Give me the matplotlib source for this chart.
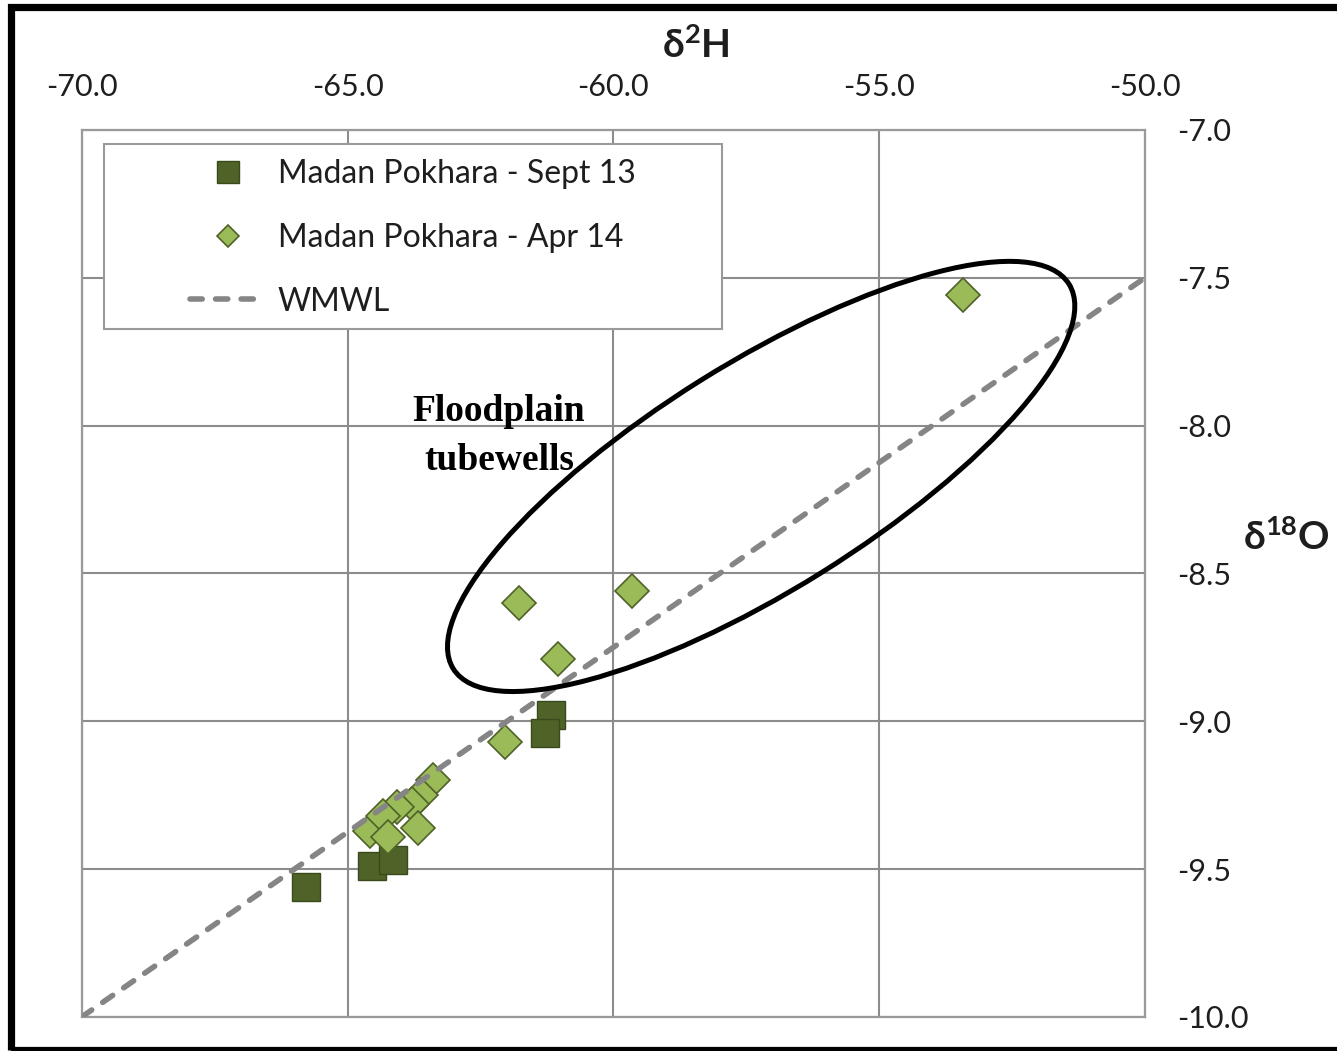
import numpy as np
import matplotlib
matplotlib.use("Agg")
import matplotlib.pyplot as plt
from matplotlib.patches import Ellipse, Rectangle
from matplotlib.transforms import ScaledTranslation

# isotope data, delta2H vs delta18O (permil)
sept13_d2h = [-65.79, -64.54, -64.15, -61.18, -61.29]
sept13_d18o = [-9.56, -9.49, -9.47, -8.98, -9.04]

apr14_d2h = [-53.43, -61.78, -59.65, -61.05, -62.04, -63.40, -63.62,
             -63.79, -64.07, -64.58, -64.34, -64.24, -63.68]
apr14_d18o = [-7.56, -8.60, -8.56, -8.79, -9.07, -9.20, -9.25,
              -9.28, -9.29, -9.37, -9.32, -9.39, -9.36]

# world meteoric water line end points
wmwl_d2h = [-70.0, -50.0]
wmwl_d18o = [-10.0, -7.5]

x_ticks = [-70.0, -65.0, -60.0, -55.0, -50.0]
y_ticks = [-7.0, -7.5, -8.0, -8.5, -9.0, -9.5, -10.0]

plt.rcParams['font.family'] = ['Lato', 'DejaVu Sans']
plt.rcParams['mathtext.fontset'] = 'custom'
plt.rcParams['mathtext.rm'] = 'Lato'
plt.rcParams['mathtext.bf'] = 'Lato:bold'

DARK = "#4F6228"
LIGHT = "#9BBB59"
GRID = "#8C8C8C"
INK = "#1E1E1E"

fig = plt.figure(figsize=(13.37, 10.51), dpi=100)
fig.patch.set_facecolor("white")
ax = fig.add_axes([0.0611, 0.0324, 0.7953, 0.844])

ax.plot(sept13_d2h, sept13_d18o, linestyle="none", marker="s", markersize=20,
        markerfacecolor=DARK, markeredgecolor="#3A4A1C", markeredgewidth=1.0,
        label="Madan Pokhara - Sept 13", zorder=3)
ax.plot(apr14_d2h, apr14_d18o, linestyle="none", marker="D", markersize=17,
        markerfacecolor=LIGHT, markeredgecolor=DARK, markeredgewidth=1.2,
        label="Madan Pokhara - Apr 14", zorder=3)
ax.plot(wmwl_d2h, wmwl_d18o, color="#858585", linewidth=4.0,
        dashes=(2.2, 2.4), dash_capstyle="round", label="WMWL", zorder=3.5)

ax.set_xlim(-70, -50)
ax.set_ylim(-10, -7)
ax.set_xticks(x_ticks)
ax.set_yticks(y_ticks)
ax.set_xticklabels([f"{v:.1f}" for v in x_ticks])
ax.set_yticklabels([f"{v:.1f}" for v in y_ticks])
ax.xaxis.tick_top()
ax.yaxis.tick_right()
ax.tick_params(axis="both", length=0, labelsize=22, colors=INK)
ax.tick_params(axis="x", pad=21)
ax.tick_params(axis="y", pad=23)
ax.grid(True, color=GRID, linewidth=1.5)
ax.set_axisbelow(True)
for sp in ax.spines.values():
    sp.set_color("#9A9A9A")
    sp.set_linewidth(1.6)

# legend box with the entries set inside it
ax.add_patch(Rectangle((0.021, 0.7757), 0.5812, 0.2085, transform=ax.transAxes,
                       facecolor="white", edgecolor="#9A9A9A", linewidth=1.5, zorder=4))
leg = ax.legend(loc="upper left", bbox_to_anchor=(0.1019, 0.9673), frameon=False,
                fontsize=23, borderpad=0, borderaxespad=0, labelspacing=1.06,
                handlelength=2.35, handletextpad=0.4, numpoints=1)
leg.set_zorder(5)
for txt in leg.get_texts():
    txt.set_color(INK)
leg.legend_handles[0].set_markersize(16)
leg.legend_handles[1].set_markersize(11.7)

# ring around the floodplain tubewell samples
ring = Ellipse((0, 0), 7.26, 2.27, angle=32, fill=False, edgecolor="black",
               linewidth=3.6, zorder=6,
               transform=fig.dpi_scale_trans + ScaledTranslation(-57.22, -8.172, ax.transData))
ax.add_patch(ring)
ax.text(-62.15, -8.035, "Floodplain\ntubewells", family="Liberation Serif",
        fontweight="bold", fontsize=27, ha="center", va="center",
        linespacing=1.5, zorder=6)

fig.text(0.5206, 0.9562, r"$\mathbf{\delta^{2}H}$", fontsize=28, ha="center",
         va="center", color=INK)
fig.text(0.9619, 0.4880, r"$\mathbf{\delta^{18}O}$", fontsize=28, ha="center",
         va="center", color=INK)

# black frame around the figure
fig.patches.append(Rectangle((0.0079, 0.001), 1.05, 0.9919, transform=fig.transFigure,
                             fill=False, edgecolor="black", linewidth=5.2,
                             figure=fig, zorder=10))

fig.savefig("out.png", dpi=100, facecolor="white")
